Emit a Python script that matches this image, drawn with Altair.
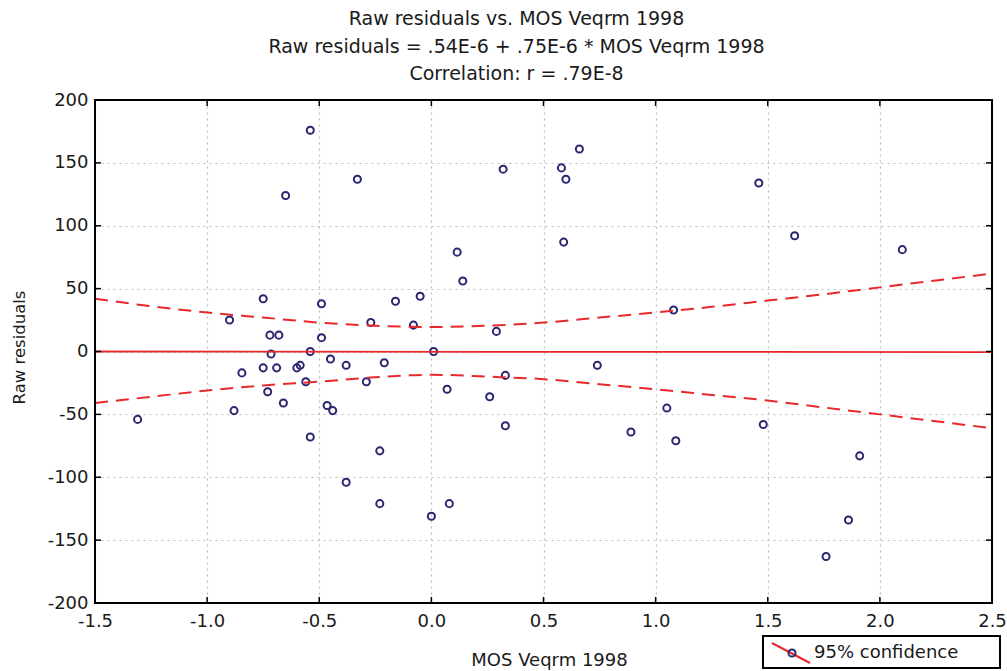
import altair as alt
import pandas as pd

# ---------------- data ----------------
mos = [-1.31, -0.90, -0.88, -0.845, -0.75, -0.75, -0.73, -0.72, -0.715, -0.68,
       -0.69, -0.66, -0.65, -0.60, -0.585, -0.56, -0.54, -0.54, -0.54, -0.49,
       -0.49, -0.465, -0.45, -0.44, -0.38, -0.38, -0.33, -0.29, -0.27, -0.23,
       -0.23, -0.21, -0.16, -0.08, -0.05, 0.0, 0.01, 0.07, 0.08, 0.115,
       0.14, 0.26, 0.29, 0.32, 0.33, 0.33, 0.58, 0.59, 0.60, 0.66,
       0.74, 0.89, 1.05, 1.08, 1.09, 1.46, 1.48, 1.62, 1.76, 1.86,
       1.91, 2.10]
resid = [-54, 25, -47, -17, 42, -13, -32, 13, -2, 13,
         -13, -41, 124, -13, -11, -24, 0, -68, 176, 38,
         11, -43, -6, -47, -104, -11, 137, -24, 23, -79,
         -121, -9, 40, 21, 44, -131, 0, -30, -121, 79,
         56, -36, 16, 145, -19, -59, 146, 87, 137, 161,
         -11, -64, -45, 33, -71, 134, -58, 92, -163, -134,
         -83, 81]

fit_x = [-1.5, 2.5]
fit_y = [0.0, -0.5]

conf_x = [-1.5, -1.25, -1.0, -0.75, -0.5, -0.25, 0.0, 0.25, 0.5, 0.75,
          1.0, 1.25, 1.5, 1.75, 2.0, 2.25, 2.5]
conf_upper = [42, 36, 31, 27, 23, 20.5, 19.5, 20.5, 23, 27,
              31, 35.5, 40.5, 45.5, 51, 56.5, 62]
conf_lower = [-41, -36, -31, -27, -24, -20.5, -18.5, -20, -22, -26,
              -30, -34.5, -39, -44.5, -50, -55.5, -61]

x_ticks = [-1.5, -1.0, -0.5, 0.0, 0.5, 1.0, 1.5, 2.0, 2.5]
y_ticks = [-200, -150, -100, -50, 0, 50, 100, 150, 200]

title_lines = ["Raw residuals vs. MOS Veqrm 1998",
               "Raw residuals = .54E-6 + .75E-6 * MOS Veqrm 1998",
               "Correlation: r = .79E-8"]
x_title = "MOS Veqrm 1998"
y_title = "Raw residuals"
legend_label = "95% confidence"

# ---------------- styling ----------------
W, H = 897, 503
FONT = "DejaVu Sans"
RED = "#e8282c"
NAVY = "#2a2672"
TXT = "#1a1a1a"

pts = pd.DataFrame({"x": mos, "y": resid})
fit = pd.DataFrame({"x": fit_x, "y": fit_y})
conf = pd.DataFrame({"x": conf_x + conf_x,
                     "y": conf_upper + conf_lower,
                     "band": ["upper"] * len(conf_x) + ["lower"] * len(conf_x)})
xt = pd.DataFrame({"x": x_ticks})
yt = pd.DataFrame({"y": y_ticks})
one = pd.DataFrame({"a": [0]})

xs = alt.Scale(domain=[-1.5, 2.5], nice=False, zero=False)
ys = alt.Scale(domain=[-200, 200], nice=False, zero=False)

points = alt.Chart(pts).mark_point(
    shape="circle", filled=False, size=50, strokeWidth=2, color=NAVY, opacity=1
).encode(
    x=alt.X("x:Q", scale=xs, axis=alt.Axis(
        values=x_ticks, title=x_title, grid=True, labelFlush=False,
        labelExpr="replace(format(datum.value, '.1f'), '\u2212', '-')",
        gridColor="#bdbdbd", gridDash=[2, 4], gridWidth=1.2,
        domain=False, ticks=False, tickSize=0, labelPadding=9,
        labelFont=FONT, labelFontSize=18, labelColor=TXT,
        titleFont=FONT, titleFontSize=18, titleFontWeight="normal",
        titleColor=TXT, titleX=454, titleY=57, titleBaseline="middle")),
    y=alt.Y("y:Q", scale=ys, axis=alt.Axis(
        values=y_ticks, title=y_title, grid=True, labelFlush=False,
        labelExpr="replace(format(datum.value, 'd'), '\u2212', '-')",
        gridColor="#bdbdbd", gridDash=[2, 4], gridWidth=1.2,
        domain=False, ticks=False, tickSize=0, labelPadding=7,
        labelFont=FONT, labelFontSize=18, labelColor=TXT,
        titleFont=FONT, titleFontSize=16.5, titleFontWeight="normal",
        titleColor=TXT, titleX=-76, titleY=247, titleAngle=-90,
        titleAlign="center", titleBaseline="middle")),
)

fit_line = alt.Chart(fit).mark_line(color=RED, strokeWidth=1.8).encode(
    x=alt.X("x:Q", scale=xs), y=alt.Y("y:Q", scale=ys))

conf_lines = alt.Chart(conf).mark_line(
    color=RED, strokeWidth=2, strokeDash=[13, 8], interpolate="monotone"
).encode(
    x=alt.X("x:Q", scale=xs), y=alt.Y("y:Q", scale=ys), detail="band:N")

# plot frame on top of the grid
frame = alt.Chart(one).mark_rect(fill=None, fillOpacity=0, stroke="black",
                                 strokeWidth=2).encode(
    x=alt.value(0), x2=alt.value(W), y=alt.value(0), y2=alt.value(H))

# inward tick marks on all four sides
tb = alt.Chart(xt).mark_rule(color="black", strokeWidth=1.5).encode(
    x=alt.X("x:Q", scale=xs), y=alt.value(H), y2=alt.value(H - 6))
tt = alt.Chart(xt).mark_rule(color="black", strokeWidth=1.5).encode(
    x=alt.X("x:Q", scale=xs), y=alt.value(0), y2=alt.value(6))
tl = alt.Chart(yt).mark_rule(color="black", strokeWidth=1.5).encode(
    y=alt.Y("y:Q", scale=ys), x=alt.value(0), x2=alt.value(6))
tr = alt.Chart(yt).mark_rule(color="black", strokeWidth=1.5).encode(
    y=alt.Y("y:Q", scale=ys), x=alt.value(W), x2=alt.value(W - 6))

# legend box below the plot, bottom right
leg_box = alt.Chart(one).mark_rect(fill="white", stroke="black", strokeWidth=2).encode(
    x=alt.value(668), x2=alt.value(905), y=alt.value(536), y2=alt.value(568))
leg_line = alt.Chart(one).mark_rule(color=RED, strokeWidth=2).encode(
    x=alt.value(677), x2=alt.value(715), y=alt.value(543), y2=alt.value(563))
leg_pt = alt.Chart(one).mark_point(shape="circle", filled=False, size=50,
                                   strokeWidth=2, color=NAVY, opacity=1).encode(
    x=alt.value(697), y=alt.value(553))
leg_txt = alt.Chart(one).mark_text(align="left", baseline="middle", font=FONT,
                                   fontSize=18, color=TXT).encode(
    x=alt.value(719), y=alt.value(553), text=alt.value(legend_label))

chart = alt.layer(
    points, conf_lines, fit_line, frame, tb, tt, tl, tr,
    leg_box, leg_line, leg_pt, leg_txt
).properties(
    width=W, height=H,
    autosize=alt.AutoSizeParams(type="none"),
    padding={"left": 95, "top": 100, "right": 15, "bottom": 68},
    title=alt.TitleParams(
        text=title_lines, font=FONT, fontSize=19, fontWeight="normal",
        color=TXT, lineHeight=27.5, anchor="middle", dx=-27, offset=7,
        frame="group"),
).configure(
    background="white"
).configure_view(
    strokeWidth=0
)

chart.save("out.html", embed_options={"renderer": "svg", "actions": False})
